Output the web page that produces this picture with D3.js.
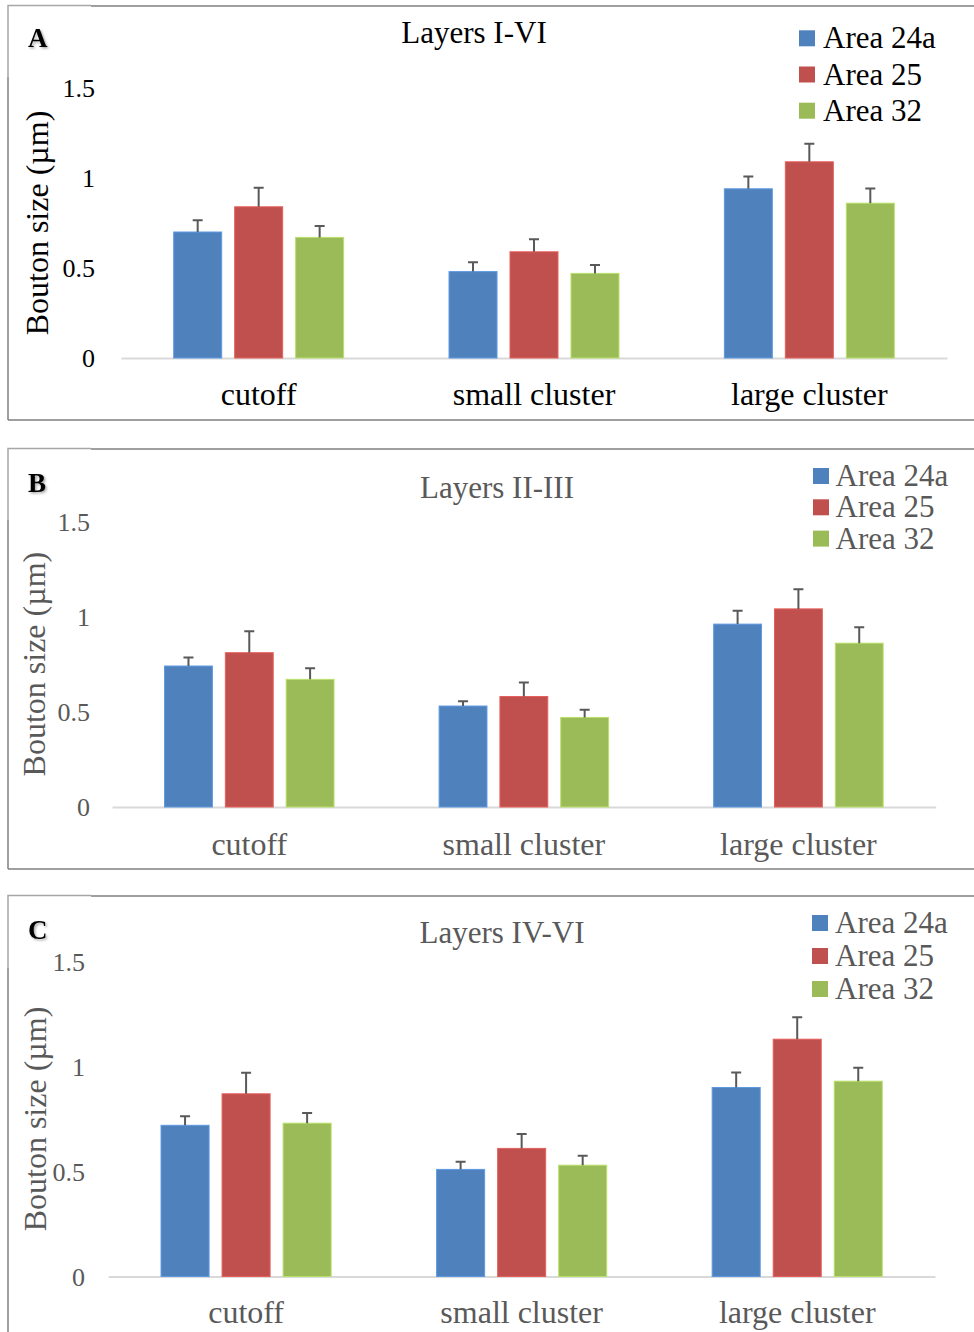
<!DOCTYPE html>
<html>
<head>
<meta charset="utf-8">
<script src="https://cdn.jsdelivr.net/npm/d3@7"></script>
<style>
  html, body { margin: 0; padding: 0; background: #fff; }
  svg { display: block; }
  text { font-family: "Liberation Serif", "Times New Roman", serif; }
</style>
</head>
<body>
<svg id="fig" width="974" height="1332"></svg>
<script>
// ---- data ----
const categories = ["cutoff", "small cluster", "large cluster"];
const seriesNames = ["Area 24a", "Area 25", "Area 32"];
const yTicks = [0, 0.5, 1, 1.5];
const panelLetters = ["A", "B", "C"];
const panelTitles = ["Layers I-VI", "Layers II-III", "Layers IV-VI"];

// mean bouton size (µm), one row per area, one column per category
const meansA = [
  [0.70, 0.48, 0.94],
  [0.84, 0.59, 1.09],
  [0.67, 0.47, 0.86]
];
const errorsA = [
  [0.065, 0.052, 0.069],
  [0.106, 0.070, 0.100],
  [0.064, 0.046, 0.081]
];
const meansB = [
  [0.74, 0.53, 0.96],
  [0.81, 0.58, 1.04],
  [0.67, 0.47, 0.86]
];
const errorsB = [
  [0.045, 0.025, 0.070],
  [0.112, 0.073, 0.103],
  [0.059, 0.040, 0.084]
];
const meansC = [
  [0.72, 0.51, 0.90],
  [0.87, 0.61, 1.13],
  [0.73, 0.53, 0.93]
];
const errorsC = [
  [0.043, 0.036, 0.072],
  [0.100, 0.069, 0.105],
  [0.049, 0.045, 0.064]
];

// ---- styling / layout ----
const seriesColors = ["#4F81BD", "#C0504D", "#9BBB59"];

const layouts = [
  { means: meansA, errors: errorsA, textColor: "#000000",
    frameTop: 6, frameBottom: 420, stubBottom: 77,
    x0: 121, x1: 947, y0: 358, yTop: 88, tickRight: 95,
    titleX: 474, titleY: 43, letterY: 47, catY: 405, axisTitleX: 48,
    legendSqX: 799, legendTextX: 823, legendY0: 38.3, legendStep: 36.2 },
  { means: meansB, errors: errorsB, textColor: "#595959",
    frameTop: 449, frameBottom: 869, stubBottom: 520,
    x0: 112, x1: 935.7, y0: 807, yTop: 521.25, tickRight: 90,
    titleX: 497, titleY: 498, letterY: 492, catY: 855, axisTitleX: 45,
    legendSqX: 813, legendTextX: 835.5, legendY0: 476, legendStep: 31.3 },
  { means: meansC, errors: errorsC, textColor: "#595959",
    frameTop: 896, frameBottom: null, stubBottom: 968,
    x0: 108.3, x1: 935, y0: 1276.5, yTop: 961.5, tickRight: 85,
    titleX: 502, titleY: 943, letterY: 939, catY: 1323, axisTitleX: 46,
    legendSqX: 812, legendTextX: 835, legendY0: 923, legendStep: 33 }
];

const svg = d3.select("#fig");
svg.append("rect").attr("width", 974).attr("height", 1332).attr("fill", "#fff");

const defs = svg.append("defs");
const shadow = defs.append("filter").attr("id", "letterShadow")
  .attr("x", "-30%").attr("y", "-30%").attr("width", "160%").attr("height", "160%");
shadow.append("feDropShadow").attr("dx", 1.5).attr("dy", 1.5)
  .attr("stdDeviation", 1).attr("flood-color", "#000").attr("flood-opacity", 0.35);

layouts.forEach((L, p) => {
  const g = svg.append("g");

  // frame: the panel border plus the lighter corner box around the letter
  const frameColor = "#7f7f7f";
  g.append("line").attr("x1", 91).attr("x2", 974).attr("y1", L.frameTop).attr("y2", L.frameTop)
    .attr("stroke", frameColor).attr("stroke-width", 1.5);
  g.append("line").attr("x1", 8).attr("x2", 8).attr("y1", L.stubBottom)
    .attr("y2", L.frameBottom === null ? 1332 : L.frameBottom)
    .attr("stroke", frameColor).attr("stroke-width", 1.5);
  if (L.frameBottom !== null) {
    g.append("line").attr("x1", 8).attr("x2", 974).attr("y1", L.frameBottom).attr("y2", L.frameBottom)
      .attr("stroke", frameColor).attr("stroke-width", 1.5);
  }
  g.append("path")
    .attr("d", `M8,${L.stubBottom} V${L.frameTop - 0.5} H91`)
    .attr("fill", "none").attr("stroke", "#a6a6a6").attr("stroke-width", 1.5);

  // scales
  const x = d3.scaleBand().domain(categories).range([L.x0, L.x1]).paddingInner(0).paddingOuter(0);
  const xs = d3.scaleBand().domain(seriesNames).range([0, x.bandwidth()])
    .paddingInner(0.213).paddingOuter(0.864);
  const y = d3.scaleLinear().domain([0, 1.5]).range([L.y0, L.yTop]);

  // y tick labels (no axis line, no gridlines)
  const yAxis = d3.axisLeft(y).tickValues(yTicks).tickSize(0).tickPadding(0)
    .tickFormat(d => d3.format("")(d));
  const ya = g.append("g").attr("transform", `translate(${L.tickRight},0)`).call(yAxis);
  ya.select(".domain").remove();
  ya.selectAll("text")
    .attr("font-family", "Liberation Serif, serif")
    .attr("font-size", 26).attr("fill", L.textColor).attr("dy", "0.34em");

  // category axis baseline + labels
  const xAxis = d3.axisBottom(x).tickSize(0).tickPadding(0);
  const xa = g.append("g").attr("transform", `translate(0,${L.y0})`).call(xAxis);
  xa.select(".domain").attr("stroke", "#d9d9d9").attr("stroke-width", 2);
  xa.selectAll("text")
    .attr("font-family", "Liberation Serif, serif")
    .attr("font-size", 32).attr("fill", L.textColor)
    .attr("y", L.catY - L.y0).attr("dy", 0);

  // bars
  const rows = [];
  seriesNames.forEach((s, si) => {
    categories.forEach((c, ci) => {
      rows.push({ s, si, c, v: L.means[si][ci], e: L.errors[si][ci] });
    });
  });

  g.append("g").selectAll("rect").data(rows).join("rect")
    .attr("x", d => x(d.c) + xs(d.s))
    .attr("width", xs.bandwidth())
    .attr("y", d => y(d.v))
    .attr("height", d => y(0) - y(d.v))
    .attr("fill", d => seriesColors[d.si])
    .attr("stroke", d => d3.color(seriesColors[d.si]).brighter(0.5))
    .attr("stroke-width", 1);

  // upper error bars
  const eb = g.append("g").attr("stroke", "#595959").attr("stroke-width", 2).attr("fill", "none");
  eb.selectAll("path").data(rows).join("path")
    .attr("d", d => {
      const cx = x(d.c) + xs(d.s) + xs.bandwidth() / 2;
      const yt = y(d.v + d.e);
      return `M${cx},${y(d.v)} V${yt} M${cx - 5},${yt} H${cx + 5}`;
    });

  // y axis title
  g.append("text")
    .attr("transform", `translate(${L.axisTitleX},${(L.y0 + L.yTop) / 2 - 0})rotate(-90)`)
    .attr("text-anchor", "middle")
    .attr("font-size", 32).attr("fill", L.textColor)
    .text("Bouton size (µm)");

  // chart title
  g.append("text")
    .attr("x", L.titleX).attr("y", L.titleY)
    .attr("text-anchor", "middle")
    .attr("font-size", 31).attr("fill", L.textColor)
    .text(panelTitles[p]);

  // panel letter
  g.append("text")
    .attr("x", 28).attr("y", L.letterY)
    .attr("font-size", 27).attr("font-weight", "bold").attr("fill", "#000")
    .attr("filter", "url(#letterShadow)")
    .text(panelLetters[p]);

  // legend
  const lg = g.append("g");
  seriesNames.forEach((s, si) => {
    const cy = L.legendY0 + si * L.legendStep;
    lg.append("rect").attr("x", L.legendSqX).attr("y", cy - 8)
      .attr("width", 16).attr("height", 16).attr("fill", seriesColors[si]);
    lg.append("text").attr("x", L.legendTextX).attr("y", cy + 10)
      .attr("font-size", 31).attr("fill", L.textColor).text(s);
  });
});
</script>
</body>
</html>
